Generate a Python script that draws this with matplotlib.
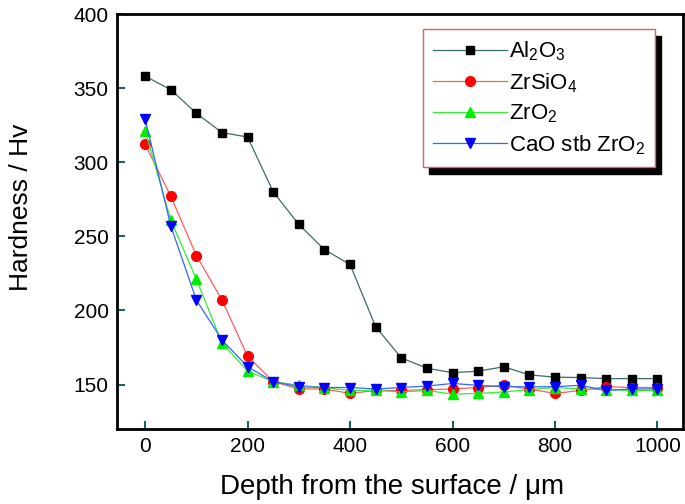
import matplotlib
matplotlib.use("Agg")
import matplotlib.pyplot as plt
from matplotlib.patches import Rectangle

plt.rcParams['font.family'] = ['Liberation Sans', 'DejaVu Sans']
plt.rcParams['mathtext.fontset'] = 'custom'
plt.rcParams['mathtext.rm'] = 'Liberation Sans'
plt.rcParams['mathtext.it'] = 'Liberation Sans'

# depth from the surface (um)
depth = [0, 50, 100, 150, 200, 250, 300, 350, 400, 450, 500,
         550, 600, 650, 700, 750, 800, 850, 900, 950, 1000]

# hardness (Hv) per coating
al2o3 = [358, 349, 333, 320, 317, 280, 258, 241, 231, 189, 168,
         161, 158, 159, 162, 156.5, 155, 154.7, 154, 154, 154]
zrsio4 = [312, 277, 237, 207, 169, 152, 147, 147, 144, 146, 146,
          146.5, 147, 148, 149.5, 147, 144, 146, 148.5, 148, 148]
zro2 = [321, 261, 221, 178, 159, 152, 149.5, 148, 146, 146, 145,
        146, 143.5, 144, 145, 146.6, 148, 147, 146.6, 146, 146]
cao_zro2 = [329, 257, 207, 180, 162, 152, 148.5, 148, 148, 147, 148,
            149, 150.7, 149.5, 148.5, 148.5, 148.5, 149.5, 146, 147, 147]

labels = ['Al$_2$O$_3$', 'ZrSiO$_4$', 'ZrO$_2$', 'CaO stb ZrO$_2$']
xticks = [0, 200, 400, 600, 800, 1000]
yticks = [150, 200, 250, 300, 350, 400]

fig = plt.figure(figsize=(6.85, 5.04), dpi=100)
ax = fig.add_axes([117/685, 75/504, 566/685, 415/504])

ax.plot(depth, al2o3, color='#3d6b6b', lw=0.9, marker='s', ms=6,
        mfc='black', mec='black', label=labels[0])
ax.plot(depth, zrsio4, color='#ff5a5a', lw=0.9, marker='o', ms=7,
        mfc='#ff0000', mec='#ff0000', label=labels[1])
ax.plot(depth, zro2, color='#33ee33', lw=0.9, marker='^', ms=7.5,
        mfc='#00ee00', mec='#00ee00', label=labels[2])
ax.plot(depth, cao_zro2, color='#3366ff', lw=0.9, marker='v', ms=7.5,
        mfc='#0000ff', mec='#0000ff', label=labels[3])

ax.set_xlim(-55, 1050)
ax.set_ylim(120, 400)
ax.set_xticks(xticks)
ax.set_yticks(yticks)
ax.tick_params(direction='in', length=6, width=1.5, labelsize=15,
               color='#1f5f5f', pad=6)
for s in ax.spines.values():
    s.set_linewidth(2)

ax.set_xlabel('Depth from the surface / μm', fontsize=20)
ax.set_ylabel('Hardness / Hv', fontsize=19)
ax.xaxis.set_label_coords(0.486, -0.108)
ax.yaxis.set_label_coords(-0.148, 0.533)

leg = ax.legend(loc='upper left', bbox_to_anchor=(0.541, 0.963), fontsize=16,
                handlelength=3.3, handletextpad=0.1, labelspacing=0.36,
                borderpad=0.45, fancybox=False, framealpha=1,
                edgecolor='#e06060', borderaxespad=0)
leg.get_frame().set_linewidth(1)
leg.set_zorder(5)

# black drop shadow behind the legend box
fig.canvas.draw()
bb = leg.get_window_extent().transformed(ax.transAxes.inverted())
dx, dy = 6 / 566, -7 / 415
ax.add_patch(Rectangle((bb.x0 + dx, bb.y0 + dy), bb.width, bb.height,
                       transform=ax.transAxes, color='black', zorder=4))

fig.savefig('out.png', dpi=100)
